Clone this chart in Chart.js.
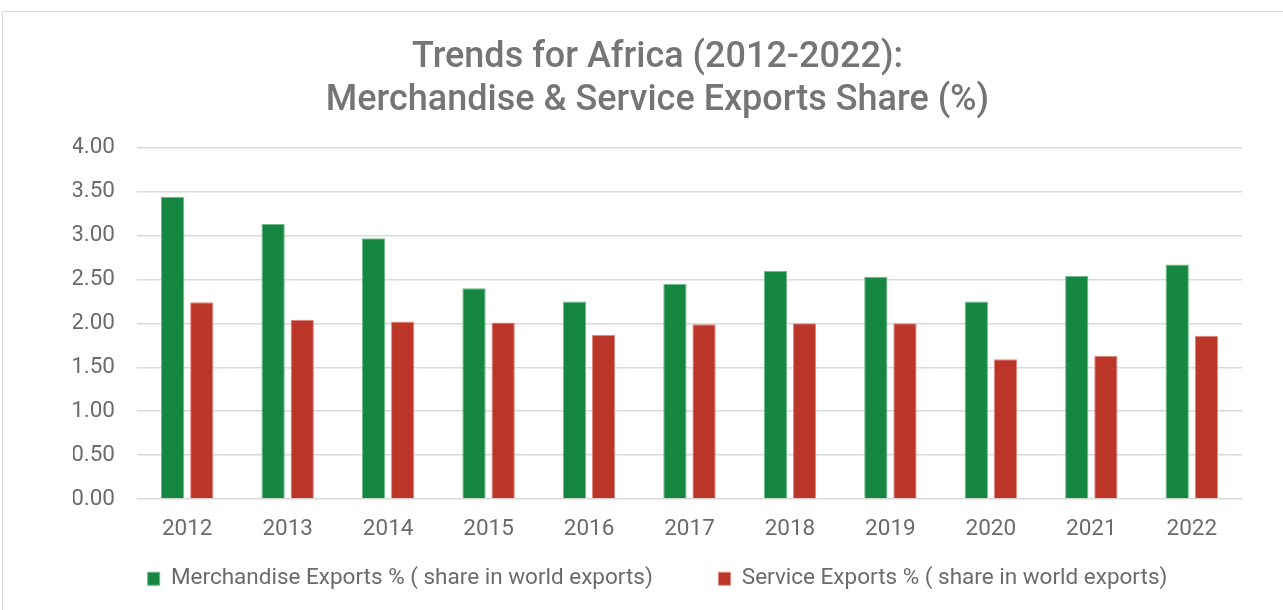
<!DOCTYPE html>
<html>
<head>
<meta charset="utf-8">
<script src="https://cdn.jsdelivr.net/npm/chart.js@4"></script>
<style>
  body { margin: 0; background: #fff; overflow: hidden; }
  .frame { position: absolute; left: 2px; top: 11px; width: 1400px; height: 700px; border: 1px solid #d9d9d9; }
  .wrap { position: absolute; left: 0; top: 0; width: 1283px; height: 610px; }
</style>
</head>
<body>
<div class="frame"></div>
<div class="wrap"><canvas id="chart"></canvas></div>
<script>
const years = ['2012', '2013', '2014', '2015', '2016', '2017', '2018', '2019', '2020', '2021', '2022'];
const merchandise = [3.44, 3.13, 2.97, 2.40, 2.25, 2.45, 2.60, 2.53, 2.25, 2.54, 2.67];
const services = [2.24, 2.04, 2.02, 2.01, 1.87, 1.99, 2.00, 2.00, 1.59, 1.63, 1.86];
const seriesNames = ['Merchandise Exports % ( share in world exports)', 'Service Exports % ( share in world exports)'];

const fontFamily = 'Roboto, "Noto Sans", sans-serif';
const textGray = '#6b6b6b';
const tickFont = { family: fontFamily, size: 22.5 };

const data = {
  labels: years,
  datasets: [{
    label: seriesNames[0],
    data: merchandise,
    backgroundColor: '#158741',
    borderColor: '#6fb98a',
    borderWidth: 1,
  }, {
    label: seriesNames[1],
    data: services,
    backgroundColor: '#bb3628',
    borderColor: '#e08a80',
    borderWidth: 1,
  }]
};

const config = {
  type: 'bar',
  data: data,
  options: {
    responsive: true,
    maintainAspectRatio: false,
    animation: false,
    categoryPercentage: 0.58,
    barPercentage: 0.8,
    layout: { padding: { left: 73, right: 41, top: 0, bottom: 10 } },
    plugins: {
      title: {
        display: true,
        text: ['Trends for Africa (2012-2022):', 'Merchandise & Service Exports Share (%)'],
        color: '#757575',
        font: { family: fontFamily, size: 36, weight: '500', lineHeight: 1.19 },
        padding: { top: 37, bottom: 25 }
      },
      legend: {
        position: 'bottom',
        labels: {
          color: textGray,
          font: tickFont,
          boxWidth: 12,
          boxHeight: 13,
          padding: 15.5,
          // wider gap after the first entry
          generateLabels: (chart) => {
            const items = Chart.defaults.plugins.legend.labels.generateLabels(chart);
            items[0].text = items[0].text + '         ';
            return items;
          }
        }
      },
      tooltip: { enabled: false }
    },
    scales: {
      x: {
        grid: { display: false },
        border: { display: false },
        ticks: { color: textGray, font: tickFont, padding: 9 }
      },
      y: {
        min: 0,
        max: 4,
        ticks: {
          stepSize: 0.5,
          color: textGray,
          font: tickFont,
          padding: 22,
          callback: (v) => v.toFixed(2)
        },
        grid: { color: '#d9d9d9', lineWidth: 1.5, drawTicks: false },
        border: { display: false },
        afterFit: (scale) => { scale.width = 64; }
      }
    }
  }
};

new Chart(document.getElementById('chart'), config);
</script>
</body>
</html>
